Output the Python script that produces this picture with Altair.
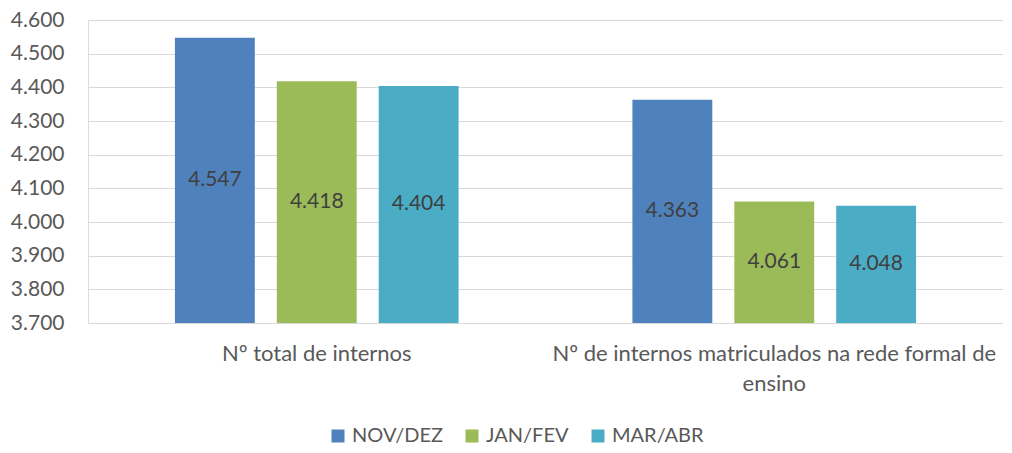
import altair as alt
import pandas as pd

categories = ["Nº total de internos", "Nº de internos matriculados na rede formal de ensino"]
series = ["NOV/DEZ", "JAN/FEV", "MAR/ABR"]
values_total = [4547, 4418, 4404]
values_matric = [4363, 4061, 4048]
colors = ["#4F81BD", "#9BBB59", "#4BACC6"]
y_ticks = [3700, 3800, 3900, 4000, 4100, 4200, 4300, 4400, 4500, 4600]

rows = []
for cat, vals in zip(categories, [values_total, values_matric]):
    for s, v in zip(series, vals):
        rows.append({"categoria": cat, "periodo": s, "valor": v})
df = pd.DataFrame(rows)

FONT = "Lato"
TXT = "#595959"

y_scale = alt.Scale(domain=[3700, 4600], nice=False, zero=False, clamp=True)

x_enc = alt.X("categoria:N", sort=categories, title=None,
              scale=alt.Scale(paddingInner=0.38, paddingOuter=0.19),
              axis=alt.Axis(labelAngle=0, ticks=False, domainColor="#d9d9d9",
                            labelFontSize=22, labelColor=TXT, labelFont=FONT,
                            labelPadding=20, labelLineHeight=30, labelLimit=700,
                            labelOverlap=False,
                            labelExpr="datum.value == 'Nº de internos matriculados na rede formal de ensino' ? ['Nº de internos matriculados na rede formal de', 'ensino'] : datum.value"))
xo_enc = alt.XOffset("periodo:N", sort=series,
                     scale=alt.Scale(paddingInner=0.216, paddingOuter=0))

base = alt.Chart(df)

bars = base.mark_bar().encode(
    x=x_enc,
    xOffset=xo_enc,
    y=alt.Y("valor:Q", title=None, scale=y_scale,
            axis=alt.Axis(values=y_ticks, tickCount=10, ticks=False, domain=False,
                          gridColor="#d9d9d9",
                          labelFontSize=21, labelColor=TXT, labelFont=FONT, labelPadding=24,
                          labelOverlap=False,
                          labelExpr="replace(format(datum.value, ','), ',', '.')")),
    y2=alt.datum(3700),
    color=alt.Color("periodo:N", sort=series,
                    scale=alt.Scale(domain=series, range=colors),
                    legend=alt.Legend(title=None, orient="none", direction="horizontal",
                                      legendX=240, legendY=406, padding=0,
                                      symbolType="square", symbolSize=169, symbolStrokeWidth=0,
                                      labelFontSize=20, labelColor=TXT, labelFont=FONT,
                                      labelOffset=4, columnPadding=19)),
)

labels = base.mark_text(fontSize=21, color="#404040", font=FONT).transform_calculate(
    mid="(datum.valor + 3700) / 2",
    rotulo="replace(format(datum.valor, ','), ',', '.')",
).encode(
    x=alt.X("categoria:N", sort=categories),
    xOffset=alt.XOffset("periodo:N", sort=series),
    y=alt.Y("mid:Q", scale=y_scale, axis=None),
    text="rotulo:N",
)

chart = alt.layer(bars, labels).resolve_axis(y="independent").properties(
    width=915, height=303,
    autosize=alt.AutoSizeParams(type="none"),
    padding={"left": 80, "top": 12, "right": 0, "bottom": 122},
).configure_view(stroke=None).configure(font=FONT)

chart.save("out.html", embed_options={"renderer": "svg", "actions": False})
